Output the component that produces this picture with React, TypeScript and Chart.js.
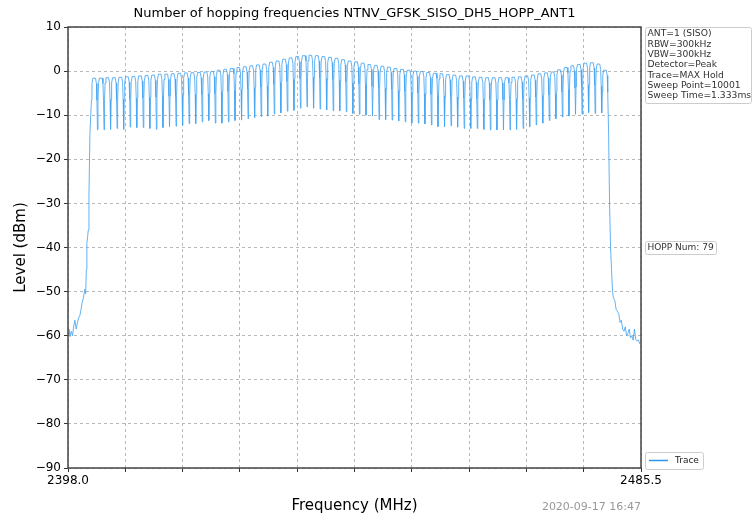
import React, { useEffect, useRef } from 'react';
import { Chart, registerables } from 'chart.js';

Chart.register(...registerables);

const FONT = '"DejaVu Sans", sans-serif';
const TITLE = 'Number of hopping frequencies NTNV_GFSK_SISO_DH5_HOPP_ANT1';
const X_TITLE = 'Frequency (MHz)';
const Y_TITLE = 'Level (dBm)';
const TIMESTAMP = '2020-09-17 16:47';
const LEGEND_LABEL = 'Trace';

const X_MIN = 2398.0;
const X_MAX = 2485.5;
const Y_MIN = -90;
const Y_MAX = 10;

const xTickValues = [2398.0, 2406.75, 2415.5, 2424.25, 2433.0, 2441.75, 2450.5, 2459.25, 2468.0, 2476.75, 2485.5];
const xTickLabels = ['2398.0', '', '', '', '', '', '', '', '', '', '2485.5'];
const yTickValues = [10, 0, -10, -20, -30, -40, -50, -60, -70, -80, -90];

const infoLines = [
  'ANT=1 (SISO)',
  'RBW=300kHz',
  'VBW=300kHz',
  'Detector=Peak',
  'Trace=MAX Hold',
  'Sweep Point=10001',
  'Sweep Time=1.333ms',
];
const hoppLabel = 'HOPP Num: 79';

// 79 hopping channels, 2402 ... 2480 MHz
const channelFreqs = [
  2402, 2403, 2404, 2405, 2406, 2407, 2408, 2409, 2410, 2411,
  2412, 2413, 2414, 2415, 2416, 2417, 2418, 2419, 2420, 2421,
  2422, 2423, 2424, 2425, 2426, 2427, 2428, 2429, 2430, 2431,
  2432, 2433, 2434, 2435, 2436, 2437, 2438, 2439, 2440, 2441,
  2442, 2443, 2444, 2445, 2446, 2447, 2448, 2449, 2450, 2451,
  2452, 2453, 2454, 2455, 2456, 2457, 2458, 2459, 2460, 2461,
  2462, 2463, 2464, 2465, 2466, 2467, 2468, 2469, 2470, 2471,
  2472, 2473, 2474, 2475, 2476, 2477, 2478, 2479, 2480,
];

// peak level of each channel (dBm)
const channelPeaks = [
  -1.6, -1.6, -1.5, -1.5, -1.4, -1.3, -1.2, -1.1, -1.0, -0.9,
  -0.7, -0.7, -0.6, -0.5, -0.4, -0.35, -0.3, -0.2, -0.1, 0.2,
  0.4, 0.6, 0.8, 1.0, 1.2, 1.4, 1.6, 2.0, 2.3, 2.7,
  3.0, 3.3, 3.5, 3.6, 3.5, 3.3, 3.1, 2.9, 2.6, 2.3,
  2.1, 1.8, 1.5, 1.3, 1.1, 0.9, 0.6, 0.4, 0.2, 0.0,
  -0.1, -0.3, -0.5, -0.6, -0.8, -0.9, -1.1, -1.1, -1.3, -1.4,
  -1.5, -1.5, -1.5, -1.5, -1.4, -1.3, -1.1, -0.9, -0.6, -0.4,
  -0.2, 0.3, 0.8, 1.2, 1.5, 1.8, 1.9, 1.6, 0.2,
];

// minimum level between neighbouring channels (dBm), 78 values
const channelDips = [
  -13.3, -13.3, -13.2, -13.0, -13.2, -12.7, -12.8, -12.8, -13.0, -13.2,
  -12.8, -12.6, -12.5, -12.3, -11.9, -11.9, -11.5, -11.2, -11.8, -11.8,
  -11.5, -11.2, -11.1, -10.8, -10.5, -10.3, -10.2, -9.7, -9.5, -9.1,
  -8.9, -8.4, -8.1, -8.4, -8.6, -8.8, -9.0, -9.0, -9.2, -9.6,
  -9.8, -10.0, -10.2, -11.0, -11.0, -11.1, -11.3, -11.5, -11.8, -11.8,
  -12.0, -12.2, -12.6, -12.6, -12.4, -12.7, -13.0, -13.0, -13.0, -13.2,
  -13.35, -13.35, -13.35, -13.35, -13.2, -13.0, -12.6, -12.2, -11.8, -11.2,
  -10.8, -10.4, -10.2, -9.8, -9.8, -9.4, -9.6, -9.5,
];

// lower band-edge skirt
const leftSkirtFreq = [
  2398.0, 2398.15, 2398.3, 2398.5, 2398.7, 2398.85, 2399.05, 2399.25, 2399.45, 2399.6,
  2399.8, 2400.0, 2400.15, 2400.35, 2400.55, 2400.7, 2400.8, 2400.88, 2401.0, 2401.1,
  2401.2, 2401.35,
];
const leftSkirtLevel = [
  -59.5, -58.5, -60.2, -59.0, -60.0, -58.0, -56.5, -58.5, -57.0, -56.0,
  -55.5, -54.0, -52.5, -51.5, -49.5, -50.5, -45.0, -39.0, -37.5, -36.0,
  -28.0, -14.0,
];

// upper band-edge skirt
const rightSkirtFreq = [
  2480.55, 2480.7, 2480.85, 2481.0, 2481.15, 2481.3, 2481.5, 2481.7, 2481.9, 2482.1,
  2482.3, 2482.5, 2482.7, 2482.9, 2483.1, 2483.3, 2483.5, 2483.7, 2483.9, 2484.1,
  2484.3, 2484.5, 2484.7, 2484.9, 2485.1, 2485.3, 2485.5,
];
const rightSkirtLevel = [
  -14.0, -30.0, -40.0, -45.0, -50.0, -51.5, -52.0, -54.0, -54.5, -55.0,
  -57.0, -56.5, -58.5, -59.0, -58.0, -60.0, -59.5, -58.5, -60.5, -60.0,
  -61.0, -58.5, -60.8, -61.2, -61.0, -61.8, -61.5,
];

// shape of one channel bump relative to its centre (MHz offset, dB below peak)
const BUMP_OFFSETS = [-0.42, -0.34, -0.2, 0.2, 0.34, 0.42];
const BUMP_DROPS = [5, 1.2, 0, 0, 1.2, 5];

const TRACE_COLOR = 'rgba(70,165,242,0.85)';
const GRID_COLOR = '#b8b8b8';
const SPINE_COLOR = '#444';

function buildTrace() {
  const pts: { x: number; y: number }[] = [];
  leftSkirtFreq.forEach((f, i) => pts.push({ x: f, y: leftSkirtLevel[i] }));
  channelFreqs.forEach((f, k) => {
    if (k > 0) pts.push({ x: f - 0.5, y: channelDips[k - 1] });
    BUMP_OFFSETS.forEach((o, j) => pts.push({ x: f + o, y: channelPeaks[k] - BUMP_DROPS[j] }));
  });
  rightSkirtFreq.forEach((f, i) => pts.push({ x: f, y: rightSkirtLevel[i] }));
  return pts;
}

function roundRect(ctx: CanvasRenderingContext2D, x: number, y: number, w: number, h: number, r: number) {
  ctx.beginPath();
  ctx.moveTo(x + r, y);
  ctx.lineTo(x + w - r, y);
  ctx.quadraticCurveTo(x + w, y, x + w, y + r);
  ctx.lineTo(x + w, y + h - r);
  ctx.quadraticCurveTo(x + w, y + h, x + w - r, y + h);
  ctx.lineTo(x + r, y + h);
  ctx.quadraticCurveTo(x, y + h, x, y + h - r);
  ctx.lineTo(x, y + r);
  ctx.quadraticCurveTo(x, y, x + r, y);
  ctx.closePath();
}

const decorPlugin = {
  id: 'decor',
  beforeDraw(chart: any) {
    const ctx = chart.ctx;
    ctx.save();
    ctx.fillStyle = '#fff';
    ctx.fillRect(0, 0, chart.width, chart.height);
    ctx.restore();
  },
  afterDraw(chart: any) {
    const ctx: CanvasRenderingContext2D = chart.ctx;
    const a = chart.chartArea;
    ctx.save();
    // frame
    ctx.strokeStyle = SPINE_COLOR;
    ctx.lineWidth = 1.5;
    ctx.strokeRect(a.left, a.top, a.right - a.left, a.bottom - a.top);

    // title
    ctx.fillStyle = '#000';
    ctx.textAlign = 'center';
    ctx.textBaseline = 'middle';
    ctx.font = `13px ${FONT}`;
    ctx.fillText(TITLE, (a.left + a.right) / 2, 14);

    // x title
    ctx.font = `15px ${FONT}`;
    ctx.fillText(X_TITLE, (a.left + a.right) / 2, 506);

    // y title
    ctx.save();
    ctx.translate(21, (a.top + a.bottom) / 2);
    ctx.rotate(-Math.PI / 2);
    ctx.fillText(Y_TITLE, 0, 0);
    ctx.restore();

    // timestamp
    ctx.fillStyle = '#999';
    ctx.font = `11px ${FONT}`;
    ctx.textAlign = 'right';
    ctx.fillText(TIMESTAMP, a.right, 507);

    // info box
    ctx.font = `9.2px ${FONT}`;
    ctx.textAlign = 'left';
    ctx.fillStyle = '#fff';
    roundRect(ctx, 645.5, 27.5, 106, 76, 2);
    ctx.fill();
    ctx.strokeStyle = '#cccccc';
    ctx.lineWidth = 1;
    ctx.stroke();
    ctx.fillStyle = '#333';
    infoLines.forEach((t, i) => ctx.fillText(t, 647.5, 34 + i * 10.3));

    // HOPP box
    ctx.font = `9px ${FONT}`;
    ctx.fillStyle = '#fff';
    roundRect(ctx, 645.5, 241.5, 71, 13, 2);
    ctx.fill();
    ctx.stroke();
    ctx.fillStyle = '#333';
    ctx.fillText(hoppLabel, 647.5, 248);

    // legend
    ctx.fillStyle = '#fff';
    roundRect(ctx, 645.5, 452.5, 58, 17, 2);
    ctx.fill();
    ctx.stroke();
    ctx.strokeStyle = 'rgba(45,150,240,1)';
    ctx.lineWidth = 1.5;
    ctx.beginPath();
    ctx.moveTo(649, 460.5);
    ctx.lineTo(668, 460.5);
    ctx.stroke();
    ctx.fillStyle = '#222';
    ctx.fillText(LEGEND_LABEL, 675, 461);
    ctx.restore();
  },
};

function fmtY(v: number) {
  return v < 0 ? '\u2212' + Math.abs(v) : String(v);
}

export default function App() {
  const ref = useRef<HTMLCanvasElement>(null);
  useEffect(() => {
    const canvas = ref.current!;
    const chart = new Chart(canvas, {
      type: 'line',
      data: {
        datasets: [
          {
            label: LEGEND_LABEL,
            data: buildTrace(),
            borderColor: TRACE_COLOR,
            borderWidth: 1,
            pointRadius: 0,
            tension: 0,
            fill: false,
          },
        ],
      },
      options: {
        responsive: false,
        animation: false,
        devicePixelRatio: 1,
        events: [],
        layout: { padding: { left: 0, right: 112, top: 27, bottom: 0 } },
        plugins: {
          legend: { display: false },
          title: { display: false },
          tooltip: { enabled: false },
        },
        scales: {
          x: {
            type: 'linear',
            min: X_MIN,
            max: X_MAX,
            afterBuildTicks: (s: any) => {
              s.ticks = xTickValues.map((v) => ({ value: v }));
            },
            afterFit: (s: any) => {
              s.height = 53;
            },
            ticks: {
              autoSkip: false,
              maxRotation: 0,
              minRotation: 0,
              padding: 2,
              color: '#000',
              font: { size: 12, family: FONT },
              callback: (_v: any, i: number) => xTickLabels[i],
            },
            grid: {
              color: GRID_COLOR,
              lineWidth: 1,
              drawTicks: true,
              tickLength: 4,
              tickColor: '#333',
              tickWidth: 1,
            },
            border: { display: false, dash: [3, 3] },
          },
          y: {
            type: 'linear',
            min: Y_MIN,
            max: Y_MAX,
            afterBuildTicks: (s: any) => {
              s.ticks = yTickValues.map((v) => ({ value: v }));
            },
            afterFit: (s: any) => {
              s.width = 68;
            },
            ticks: {
              padding: 3,
              color: '#000',
              font: { size: 12, family: FONT },
              callback: (v: any) => fmtY(Number(v)),
            },
            grid: {
              color: GRID_COLOR,
              lineWidth: 1,
              drawTicks: true,
              tickLength: 4,
              tickColor: '#333',
              tickWidth: 1,
            },
            border: { display: false, dash: [3, 3] },
          },
        },
      } as any,
      plugins: [decorPlugin],
    });
    return () => chart.destroy();
  }, []);
  return (
    <div style={{ position: 'fixed', left: 0, top: 0, width: 753, height: 521, background: '#fff' }}>
      <canvas ref={ref} width={753} height={521} style={{ display: 'block' }} />
    </div>
  );
}
